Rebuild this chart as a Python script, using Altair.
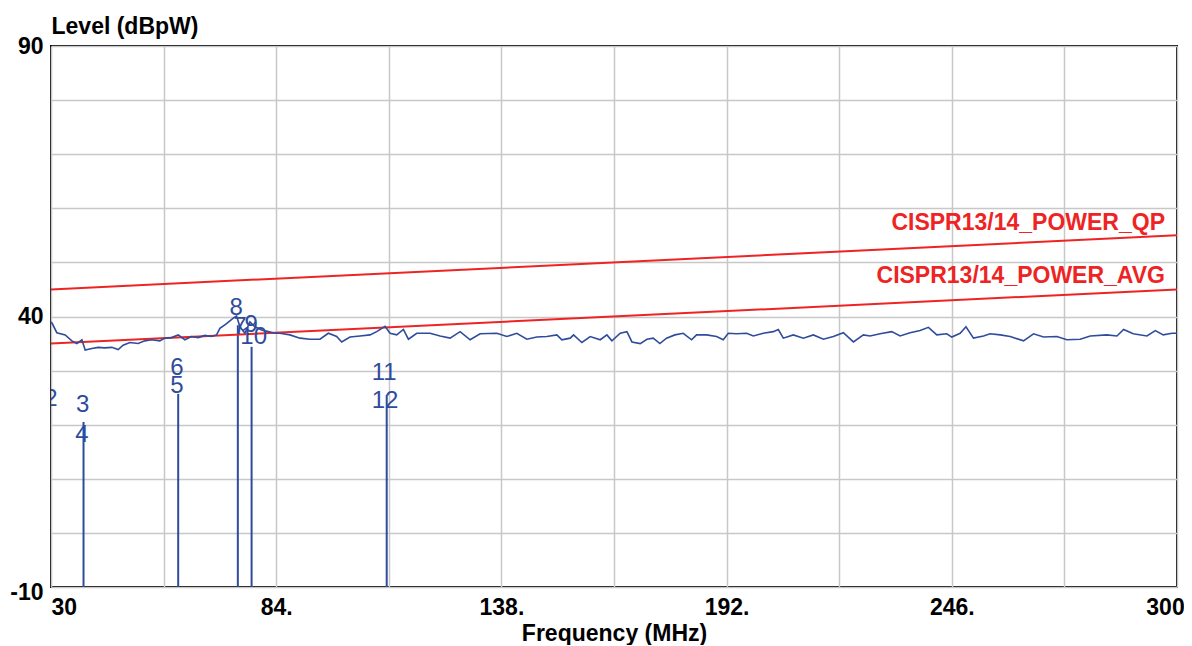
import altair as alt
import pandas as pd

# ---- measured trace (frequency MHz, level dBpW) ----
trace_freq = [30.0, 30.3, 31.4, 33.4, 35.0, 36.2, 37.4, 38.2, 39.8, 41.3, 42.9, 44.6, 46.1, 47.3, 48.9,
              50.9, 52.5, 54.1, 56.1, 57.3, 58.9, 60.5, 62.1, 63.7, 65.3, 66.9, 68.5, 69.7, 70.5, 72.1,
              73.7, 74.5, 75.3, 76.5, 77.7, 78.9, 80.5, 82.1, 83.7, 84.9, 87.3, 89.7, 92.1, 94.5, 96.5,
              98.5, 99.7, 101.7, 104.1, 106.5, 108.1, 110.1, 111.3, 112.9, 114.5, 115.7, 117.7, 120.9,
              123.3, 125.7, 128.1, 130.5, 132.9, 136.9, 139.3, 141.7, 144.1, 146.5, 148.9, 151.3, 152.5,
              154.5, 155.3, 157.3, 159.3, 161.7, 163.3, 164.5, 166.5, 168.1, 169.3, 171.3, 172.9, 174.4,
              176.0, 177.6, 179.6, 181.6, 183.6, 184.8, 187.2, 189.6, 191.2, 192.4, 194.4, 196.8, 198.4,
              200.8, 203.2, 204.4, 205.6, 208.0, 210.4, 212.8, 215.2, 217.6, 220.0, 222.4, 224.8, 226.4,
              228.8, 231.6, 233.6, 236.0, 238.4, 240.4, 242.4, 244.8, 246.0, 248.0, 249.4, 251.2, 253.6,
              255.2, 257.6, 260.0, 263.2, 265.6, 268.0, 271.2, 273.6, 276.8, 279.2, 283.2, 285.6, 287.2,
              289.5, 292.8, 294.8, 296.7, 298.8, 300.0]
trace_level = [39.0, 38.7, 37.0, 36.6, 35.5, 35.0, 35.7, 33.8, 34.1, 34.3, 34.2, 34.3, 33.9, 34.7, 35.2,
               35.0, 35.5, 35.7, 35.5, 36.0, 36.1, 36.6, 35.7, 36.3, 36.1, 36.5, 36.3, 36.6, 37.8, 38.7,
               39.7, 40.1, 38.1, 36.9, 39.0, 38.1, 37.5, 37.2, 36.9, 36.9, 36.6, 36.0, 35.8, 35.8, 36.9,
               36.3, 35.3, 36.2, 36.4, 36.6, 37.2, 38.2, 36.9, 36.6, 37.6, 35.8, 36.9, 36.9,
               36.4, 36.0, 37.2, 35.7, 36.8, 36.9, 36.3, 36.9, 35.8, 36.2, 36.3, 36.6, 35.7,
               36.0, 36.6, 35.2, 36.3, 35.7, 36.6, 35.5, 36.9, 37.2, 35.3, 35.0, 35.8, 36.0,
               35.0, 36.0, 36.6, 36.9, 35.7, 36.6, 36.6, 36.3, 35.7, 36.9, 36.8, 36.9, 36.4,
               36.9, 37.2, 37.6, 36.0, 36.6, 36.0, 36.6, 35.8, 36.3, 37.0, 35.3, 36.6, 36.4,
               36.8, 37.2, 36.4, 37.0, 37.4, 38.0, 36.6, 36.8, 36.2, 36.9, 38.1, 36.0, 36.4,
               36.8, 36.6, 36.3, 35.5, 36.8, 36.2, 36.3, 35.7, 35.8, 36.4, 36.6, 36.4, 37.6,
               36.8, 36.4, 37.4, 36.6, 36.9, 36.9]

# ---- limit lines ----
limit_freq = [30, 300]
qp_level = [45, 55]
avg_level = [35, 45]
limit_names = ["CISPR13/14_POWER_QP", "CISPR13/14_POWER_AVG"]
limit_label_level = [56.0, 46.2]

# ---- marker lines ----
rule_freq = [37.8, 60.5, 74.8, 78.1, 110.5]
rule_top = [20.5, 25.7, 38.4, 34.4, 25.5]

# ---- marker labels ----
mark_text = ["2", "3", "4", "5", "6", "7", "8", "9", "10", "11", "12"]
mark_freq = [30.0, 37.6, 37.4, 60.2, 60.2, 75.3, 74.4, 78.0, 78.6, 109.9, 110.1]
mark_level = [24.8, 23.6, 18.1, 27.2, 30.5, 38.1, 41.6, 38.4, 36.2, 29.6, 24.4]

# ---- axes ----
x_grid = [30, 57, 84, 111, 138, 165, 192, 219, 246, 273, 300]
y_grid = [-10, 0, 10, 20, 30, 40, 50, 60, 70, 80, 90]

BLUE = "#2F4C9C"
RED = "#EE2424"
FONT = "Liberation Sans"

trace_df = pd.DataFrame({"f": trace_freq, "lvl": trace_level})
limit_df = pd.DataFrame({
    "f": limit_freq * 2,
    "lvl": qp_level + avg_level,
    "name": [limit_names[0]] * 2 + [limit_names[1]] * 2,
})
label_df = pd.DataFrame({"f": [300, 300], "lvl": limit_label_level, "name": limit_names})
rule_df = pd.DataFrame({"f": rule_freq, "top": rule_top, "base": [-10] * len(rule_freq)})
mark_df = pd.DataFrame({"f": mark_freq, "lvl": mark_level, "t": mark_text})

xscale = alt.Scale(domain=[30, 300], nice=False, zero=False)
yscale = alt.Scale(domain=[-10, 90], nice=False, zero=False)

xaxis = alt.Axis(
    values=x_grid, format="d",
    labelExpr="datum.value == 30 || datum.value == 300 ? datum.label : "
              "(datum.value == 84 || datum.value == 138 || datum.value == 192 || datum.value == 246 ? datum.label + '.' : '')",
    labelAlign={"condition": {"test": "datum.value == 30", "value": "left"}, "value": "center"},
    labelOffset={"condition": {"test": "datum.value == 300", "value": -12}, "value": 0},
    labelFlush=False, labelOverlap=False, labelBaseline="alphabetic", labelPadding=27,
    title="Frequency (MHz)", titleY=53, titleBaseline="alphabetic",
)
yaxis = alt.Axis(
    values=y_grid, format="d",
    labelExpr="datum.value == 90 ? '90' : (datum.value == 40 ? '40' : (datum.value == -10 ? '-10' : ''))",
    labelOffset={"condition": {"test": "datum.value == -10", "value": 5}, "value": 0},
    labelOverlap=False, labelBaseline="middle", labelPadding=8,
    title="Level (dBpW)", titleAngle=0, titleAlign="left", titleBaseline="alphabetic",
    titleX=0, titleY=-13,
)

x = alt.X("f:Q", scale=xscale, axis=xaxis)
y = alt.Y("lvl:Q", scale=yscale, axis=yaxis)

rules = alt.Chart(rule_df).mark_rule(color=BLUE, strokeWidth=2).encode(
    x=alt.X("f:Q", scale=xscale, axis=xaxis),
    y=alt.Y("top:Q", scale=yscale, axis=yaxis),
    y2="base:Q",
)
limits = alt.Chart(limit_df).mark_line(strokeWidth=2, color=RED).encode(
    x=x, y=y, detail="name:N"
)
trace = alt.Chart(trace_df).mark_line(strokeWidth=1.6, color=BLUE).encode(x=x, y=y)
limit_text = alt.Chart(label_df).mark_text(
    align="right", baseline="alphabetic", dx=-12, font=FONT, fontSize=23,
    fontWeight="bold", color=RED
).encode(x=x, y=y, text="name:N")
marks = alt.Chart(mark_df).mark_text(
    align="center", baseline="middle", font=FONT, fontSize=24, color=BLUE, clip=True
).encode(x=x, y=y, text="t:N")

chart = alt.layer(rules, limits, trace, limit_text, marks).properties(
    width=1126, height=541,
    autosize=alt.AutoSizeParams(type="none"),
    padding={"left": 43, "top": 38, "right": 7, "bottom": 58},
    background="white",
).configure_view(
    stroke="#000000", strokeWidth=2
).configure_axis(
    grid=True, gridColor="#C8C8C8", gridWidth=1.5,
    domain=False, ticks=False, tickSize=0,
    labelFont=FONT, labelFontSize=23, labelFontWeight="bold", labelColor="#000000",
    titleFont=FONT, titleFontSize=23, titleFontWeight="bold", titleColor="#000000",
)

chart.save("out.html", embed_options={"renderer": "svg", "actions": False})
